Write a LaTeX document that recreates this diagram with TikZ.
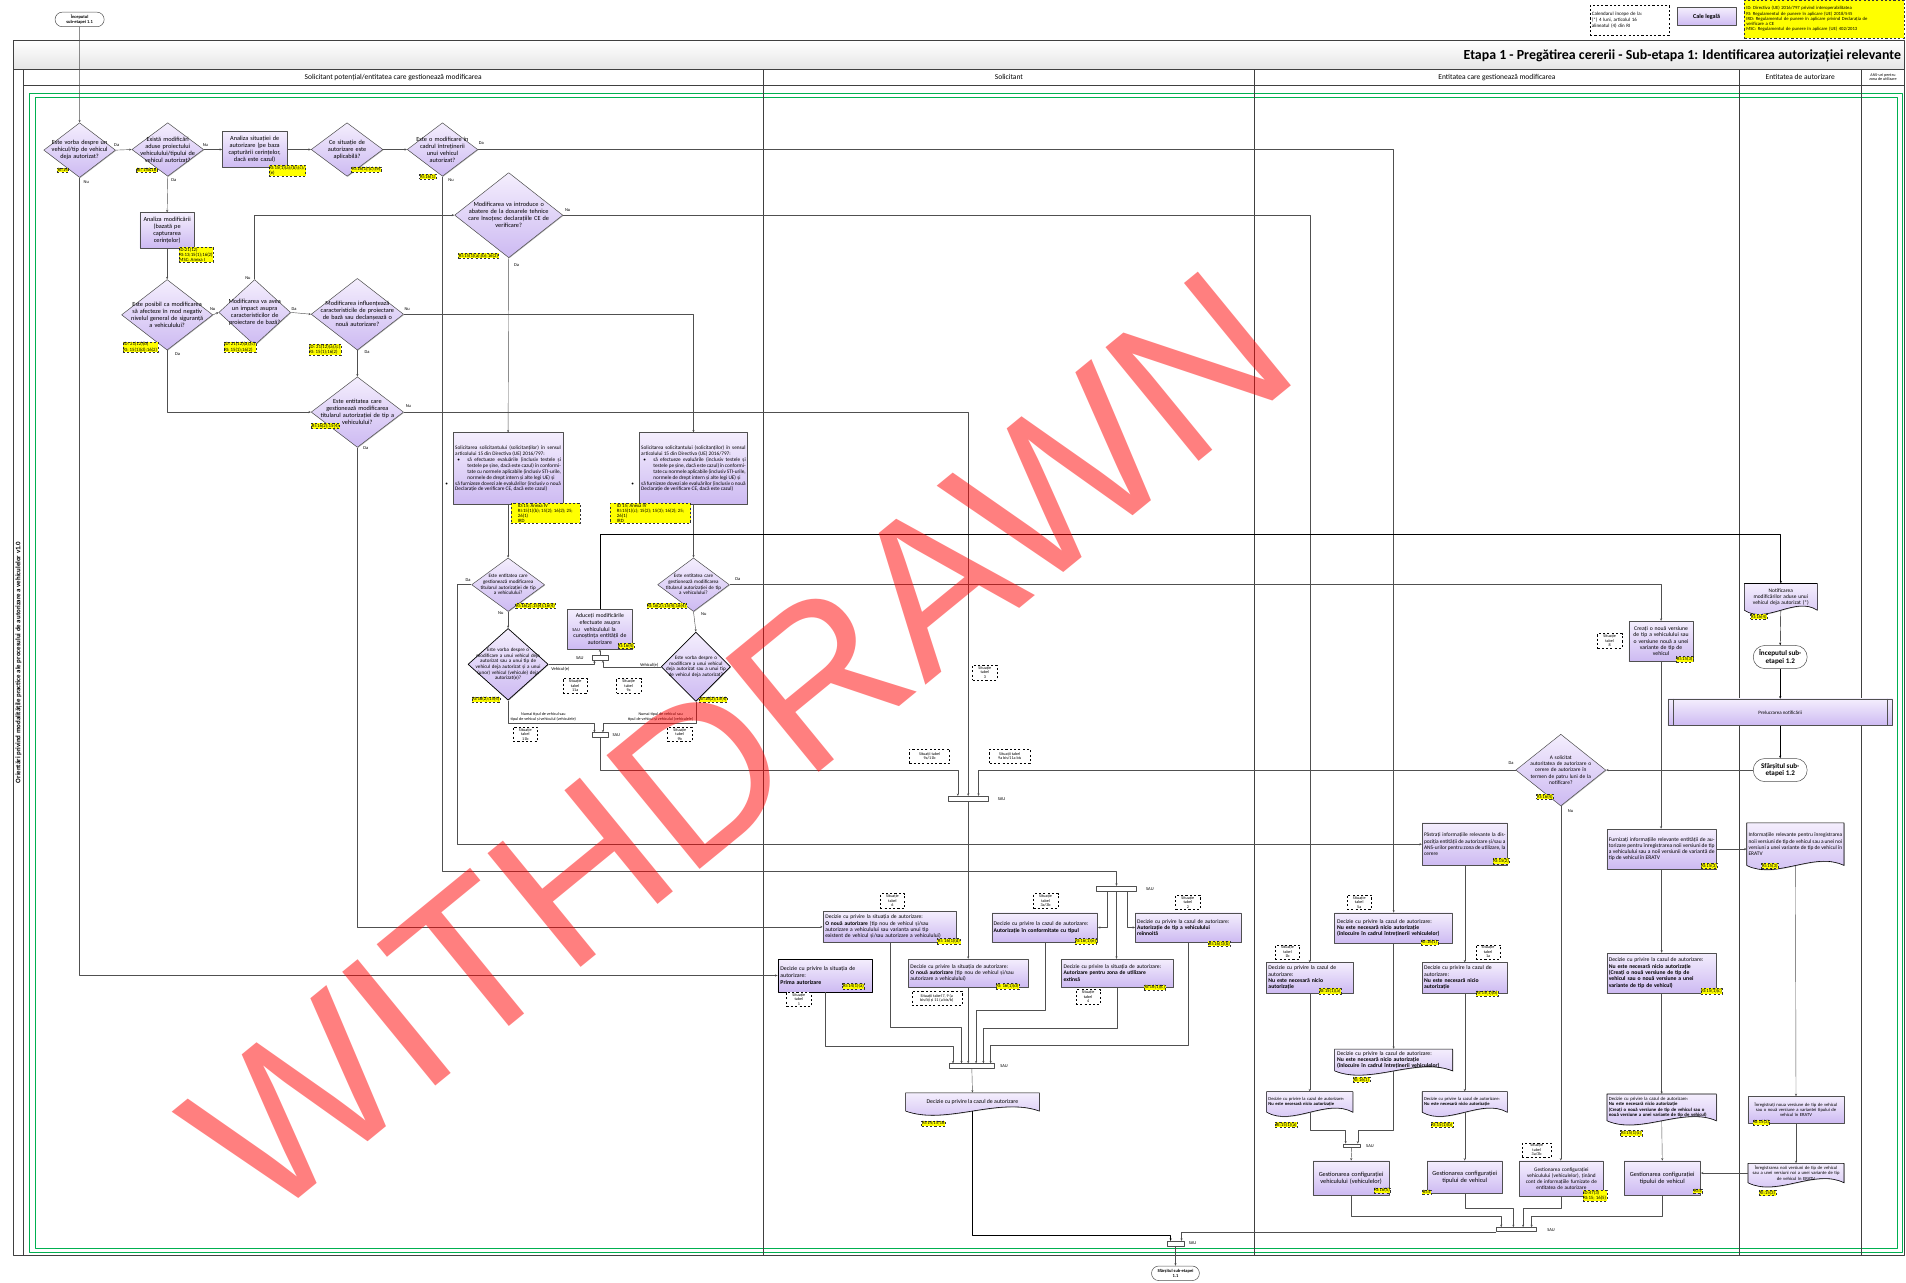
\documentclass[tikz,border=0pt]{standalone}
\usepackage{fontspec}
\setmainfont{Carlito}
\newfontfamily\wmfont{Liberation Sans}
\usetikzlibrary{shapes.geometric,shapes.misc,arrows.meta,calc,shadows}
\setlength{\parindent}{0pt}
\newlength{\ux}
\setlength{\ux}{0.06cm}

\definecolor{lavtop}{RGB}{244,238,253}
\definecolor{lavbot}{RGB}{205,186,242}
\definecolor{edgegray}{RGB}{80,80,80}
\definecolor{poolgray}{RGB}{64,64,64}
\definecolor{swimgreen}{RGB}{0,176,80}
\definecolor{tagyellow}{RGB}{255,255,0}

% wavy document outline, straight part from (x1,y1) to (x2,y2)
\newcommand{\docpath}[4]{%
  \path[docshape] (#1,#2) -- (#3,#2) -- (#3,#4)
    .. controls ($(#3,#4)+({-0.3*(#3-#1)},-12)$) and ($(#1,#4)+({0.3*(#3-#1)},12)$) .. (#1,#4) -- cycle;}

\tikzset{
  sz/.style 2 args={minimum width=#1\ux, minimum height=#2\ux},
  tw/.style={text width=#1\ux},
  shade box/.style={top color=lavtop, bottom color=lavbot,
    drop shadow={shadow xshift=0.9pt, shadow yshift=-0.9pt, opacity=0.3, fill=black}},
  proc/.style={rectangle, draw=edgegray, line width=0.7pt, shade box, inner sep=1.2pt,
    align=center, font=\fontsize{8.8}{9.9}\selectfont},
  dec/.style={diamond, draw=edgegray, line width=0.7pt, shade box, inner sep=0pt},
  dectext/.style={align=center, inner sep=0pt, font=\fontsize{8.8}{9.9}\selectfont},
  docshape/.style={draw=black, line width=0.8pt, shade box},
  docnode/.style={rectangle, inner sep=1.2pt, align=center, font=\fontsize{8.2}{9.2}\selectfont},
  term/.style={rounded rectangle, draw=edgegray, line width=0.7pt, fill=white, inner sep=0.5pt,
    align=center, font=\fontsize{6.3}{7}\selectfont\bfseries},
  reftag/.style={draw=black!80, dashed, fill=tagyellow, anchor=north west, align=left,
    inner sep=0.8pt, font=\fontsize{6.8}{7.4}\selectfont},
  dnote/.style={draw=black, dashed, line width=0.6pt, fill=white, anchor=north west, align=center,
    inner sep=0.8pt, minimum width=20\ux, minimum height=12\ux, font=\fontsize{5.8}{6.3}\selectfont},
  lbl/.style={inner sep=0pt, align=center, font=\fontsize{6.3}{7}\selectfont},
  sau/.style={rectangle, draw=edgegray, line width=0.6pt, fill=white, inner sep=0pt},
  flow/.style={draw=edgegray, line width=0.6pt, -{Stealth[length=3.5pt,width=3pt]}},
  lanehd/.style={inner sep=0pt, align=center, font=\fontsize{10.5}{11.5}\selectfont},
}

\begin{document}
\begin{tikzpicture}[x=0.06cm, y=-0.06cm, line join=round]
  \useasboundingbox (0,0) rectangle (1568,1055);

  % Pool, lanes and title
  \shade[top color=white, bottom color=black!10] (11,33) rectangle (1567,57);
  \draw[swimgreen, line width=0.9pt] (24,77) rectangle (1565,1030);
  \draw[swimgreen, line width=0.9pt] (29,80) rectangle (1561,1027);
  \draw[poolgray, line width=1pt] (11,33) rectangle (1567,1033);
  \draw[poolgray, line width=0.7pt] (11,57) -- (1567,57) (19,57) -- (19,1033) (19,70) -- (1567,70);
  \foreach \x in {628,1032,1431,1531}
    \draw[poolgray, line width=0.8pt] (\x,57) -- (\x,1033);
  \node[anchor=east, inner sep=0pt, font=\fontsize{19.5}{21}\selectfont\bfseries] (ttl) at (1564,46)
    {Etapa 1 - Pregătirea cererii - Sub-etapa 1: Identificarea autorizației relevante};
  \node[rotate=90, inner sep=0pt, font=\fontsize{9.7}{10.5}\selectfont\bfseries] (vtl) at (15.3,545)
    {Orientări privind modalitățile practice ale procesului de autorizare a vehiculelor v1.0};
  \node[lanehd] (h1) at (323.5,63.5) {Solicitant potențial/entitatea care gestionează modificarea};
  \node[lanehd] (h2) at (830,63.5) {Solicitant};
  \node[lanehd] (h3) at (1231.5,63.5) {Entitatea care gestionează modificarea};
  \node[lanehd] (h4) at (1481,63.5) {Entitatea de autorizare};
  \node[lanehd, font=\fontsize{5.8}{6.5}\selectfont] (h5) at (1549,63.5) {ANS-uri pentru\\zona de utilizare};

  % Legend
  \node[draw=black, dashed, anchor=north west, sz={65}{25}, tw=62, align=left, inner sep=1pt,
    font=\fontsize{7}{8}\selectfont] (cal) at (1308,4) {Calendarul începe de la:\\(*) 4 luni, articolul 16\\alineatul (4) din RI};
  \node[proc, sz={48}{15}, font=\fontsize{8.5}{9.5}\selectfont\bfseries] (cale) at (1404,13.5) {Cale legală};
  \node[reftag, sz={131}{31}, tw=128, font=\fontsize{6.6}{7.3}\selectfont] (leg) at (1435,0)
    {ID: Directiva (UE) 2016/797 privind interoperabilitatea\\RI: Regulamentul de punere în aplicare (UE) 2018/545\\IRD: Regulamentul de punere în aplicare privind Declarația de\\verificare a CE\\MSC: Regulamentul de punere în aplicare (UE) 402/2013};

  % Lane 1: decisions
  \node[term, sz={41}{12}] (s11) at (65.5,16) {Începutul\\sub-etapei 1.1};
  \node[dec, sz={59}{45}] (d1) at (65.5,123.5) {};
  \node[dectext, tw=52] (d1t) at (d1) {Este vorba despre un\\vehicul/tip de vehicul\\deja autorizat?};
  \node[dec, sz={59}{44}] (d2) at (138,123) {};
  \node[dectext, tw=52] (d2t) at (d2) {Există modificări\\aduse proiectului\\vehiculului/tipului de\\vehicul autorizat?};
  \node[proc, sz={53}{30}, tw=51] (a1) at (209.5,123) {Analiza situației de\\autorizare (pe baza\\capturării cerințelor,\\dacă este cazul)};
  \node[dec, sz={59}{44}] (d3) at (285.5,123) {};
  \node[dectext, tw=44] (d3t) at (d3) {Ce situație de\\autorizare este\\aplicabilă?};
  \node[dec, sz={58}{44}] (d4) at (364,123) {};
  \node[dectext, tw=48] (d4t) at (d4) {Este o modificare în\\cadrul întreținerii\\unui vehicul\\autorizat?};
  \node[proc, sz={45}{29}, tw=43] (a2) at (137.5,189.5) {Analiza modificării\\(bazată pe\\capturarea\\cerințelor)};
  \node[dec, sz={75}{58}] (d5) at (137.5,259) {};
  \node[dectext, tw=66] (d5t) at (d5) {Este posibil ca modificarea\\să afecteze în mod negativ\\nivelul general de siguranță\\a vehiculului?};
  \node[dec, sz={59}{54}] (d6) at (209.5,257) {};
  \node[dectext, tw=52] (d6t) at (d6) {Modificarea va avea\\un impact asupra\\caracteristicilor de\\proiectare de bază?};
  \node[dec, sz={76}{59}] (d9) at (294,258.5) {};
  \node[dectext, tw=68] (d9t) at (d9) {Modificarea influențează\\caracteristicile de proiectare\\de bază sau declanșează o\\nouă autorizare?};
  \node[dec, sz={89}{70}] (d7) at (418.5,177) {};
  \node[dectext, tw=74] (d7t) at (d7) {Modificarea va introduce o\\abatere de la dosarele tehnice\\care însoțesc declarațiile CE de\\verificare?};
  \node[dec, sz={76}{58}] (d8) at (294,339) {};
  \node[dectext, tw=68] (d8t) at (d8) {Este entitatea care\\gestionează modificarea\\titularul autorizației de tip a\\vehiculului?};

  % Lane 1: requests to the applicant
  \node[proc, sz={90}{59}, tw=87, align=justify, font=\fontsize{7.4}{8.4}\selectfont] (s1) at (418,385.5)
    {Solicitarea solicitantului (solicitanților) în sensul articolului 15 din Directiva (UE) 2016/797:\par
     \hangindent=10\ux\hangafter=0\leavevmode\llap{\textbullet\hspace{6\ux}}să efectueze evaluările (inclusiv testele și testele pe șine, dacă este cazul) în conformitate cu normele aplicabile (inclusiv STI-urile, normele de drept intern și alte legi UE) și\par
     \hangindent=10\ux\hangafter=0\leavevmode\llap{\textbullet\hspace{6\ux}}să furnizeze dovezi ale evaluărilor (inclusiv o nouă Declarație de verificare CE, dacă este cazul)};
  \node[proc, sz={89}{59}, tw=86, align=justify, font=\fontsize{7.4}{8.4}\selectfont] (s2) at (570.5,385.5)
    {Solicitarea solicitantului (solicitanților) în sensul articolului 15 din Directiva (UE) 2016/797:\par
     \hangindent=10\ux\hangafter=0\leavevmode\llap{\textbullet\hspace{6\ux}}să efectueze evaluările (inclusiv testele și testele pe șine, dacă este cazul) în conformitate cu normele aplicabile (inclusiv STI-urile, normele de drept intern și alte legi UE) și\par
     \hangindent=10\ux\hangafter=0\leavevmode\llap{\textbullet\hspace{6\ux}}să furnizeze dovezi ale evaluărilor (inclusiv o nouă Declarație de verificare CE, dacă este cazul)};
  \node[dec, sz={60}{44}] (d10) at (418,481) {};
  \node[dectext, tw=54, font=\fontsize{7.1}{8}\selectfont] (d10t) at (d10) {Este entitatea care\\gestionează modificarea\\titularul autorizației de tip\\a vehiculului?};
  \node[dec, sz={59}{44}] (d13) at (570.5,481) {};
  \node[dectext, tw=54, font=\fontsize{7.1}{8}\selectfont] (d13t) at (d13) {Este entitatea care\\gestionează modificarea\\titularul autorizației de tip\\a vehiculului?};
  \node[dec, sz={66}{59}, draw=black, line width=1pt] (d12) at (418,546.5) {};
  \node[dectext, tw=62, font=\fontsize{7.1}{8}\selectfont] (d12t) at (d12) {Este vorba despre o\\modificare a unui vehicul deja\\autorizat sau a unui tip de\\vehicul deja autorizat și a unui\\(unor) vehicul (vehicule) deja\\autorizat(e)?};
  \node[dec, sz={57}{57}, draw=black, line width=1pt] (d14) at (572.5,548.5) {};
  \node[dectext, tw=58, font=\fontsize{7.1}{8}\selectfont] (d14t) at (d14) {Este vorba despre o\\modificare a unui vehicul\\deja autorizat sau a unui tip\\de vehicul deja autorizat?};
  \node[proc, sz={53}{33}, tw=51, font=\fontsize{8.2}{9.2}\selectfont] (ad) at (493.5,517.5) {Aduceți modificările\\efectuate asupra\\vehiculului la\\cunoștința entității de\\autorizare};

  % OR bars
  \node[sau, sz={13}{4}] (bar1) at (493.5,541) {};
  \node[sau, sz={13}{3.5}] (bar2) at (493.5,604.5) {};
  \node[sau, sz={33}{4}] (bar3) at (796.5,657) {};
  \node[sau, sz={33}{4}] (bar4) at (918.5,731) {};
  \node[sau, sz={37}{4}] (bar5) at (799.5,877) {};
  \node[sau, sz={14}{4}] (bar6) at (967,1023) {};
  \node[sau, sz={33}{3.5}] (bar7) at (1247.5,1011.5) {};
  \node[sau, sz={14}{3}] (bar8) at (1112,942.5) {};
  \node[lbl] (sau1) at (477,541) {SAU};
  \node[lbl] (sau1b) at (474,518) {SAU};
  \node[lbl] (sau2) at (507,605) {SAU};
  \node[lbl] (sau3) at (824,657) {SAU};
  \node[lbl] (sau4) at (946,731) {SAU};
  \node[lbl] (sau5) at (826,877) {SAU};
  \node[lbl] (sau6) at (981,1023) {SAU};
  \node[lbl] (sau7) at (1276,1012) {SAU};
  \node[lbl] (sau8) at (1127,943) {SAU};

  % Lane 2: decisions of the applicant
  \node[proc, sz={78}{27}, tw=74, align=left, draw=black, line width=1pt, font=\fontsize{8.2}{9.2}\selectfont] (bp) at (679,802.5)
    {Decizie cu privire la situația de\\autorizare:\\\textbf{Prima autorizare}};
  \node[proc, sz={110}{25}, tw=106, align=left, font=\fontsize{7.8}{8.8}\selectfont] (bn) at (732,762.5)
    {Decizie cu privire la situația de autorizare:\\\textbf{O nouă autorizare} (tip nou de vehicul și/sau\\autorizare a vehiculului sau varianta unui tip\\existent de vehicul și/sau autorizare a vehiculului)};
  \node[proc, sz={99}{23}, tw=95, align=left, font=\fontsize{7.8}{8.8}\selectfont] (b3) at (796.5,800.5)
    {Decizie cu privire la situația de autorizare:\\\textbf{O nouă autorizare} (tip nou de vehicul și/sau\\autorizare a vehiculului)};
  \node[proc, sz={87}{24}, tw=84, align=left, font=\fontsize{8}{9}\selectfont] (bc) at (859.5,763)
    {Decizie cu privire la cazul de autorizare:\\\textbf{Autorizație în conformitate cu tipul}};
  \node[proc, sz={92}{23}, tw=88, align=left, font=\fontsize{7.8}{8.8}\selectfont] (be) at (919,800.5)
    {Decizie cu privire la situația de autorizare:\\\textbf{Autorizare pentru zona de utilizare}\\\textbf{extinsă}};
  \node[proc, sz={87}{24}, tw=84, align=left, font=\fontsize{7.8}{8.8}\selectfont] (br) at (977.5,763)
    {Decizie cu privire la cazul de autorizare:\\\textbf{Autorizație de tip a vehiculului}\\\textbf{reînnoită}};
  \docpath{745}{899}{855}{914}
  \node[docnode, sz={110}{15}] (docdec) at (800,906.5) {Decizie cu privire la cazul de autorizare};
  \node[term, sz={40}{12}] (e11) at (967,1047.5) {Sfârșitul sub-etapei\\1.1};

  % Lane 3: entity managing the change
  \node[proc, sz={70}{35}, tw=67, align=justify, font=\fontsize{7.6}{8.6}\selectfont] (p) at (1205,694.5)
    {Păstrați informațiile relevante la dispoziția entității de autorizare și/sau a ANS-urilor pentru zona de utilizare, la cerere};
  \node[proc, sz={71}{25}, tw=68, align=left, font=\fontsize{8}{9}\selectfont] (n1) at (1077.5,804.5)
    {Decizie cu privire la cazul de\\autorizare:\\\textbf{Nu este necesară nicio}\\\textbf{autorizație}};
  \node[proc, sz={97}{25}, tw=93, align=left, font=\fontsize{8}{9}\selectfont] (nm) at (1146.5,763.5)
    {Decizie cu privire la cazul de autorizare:\\\textbf{Nu este necesară nicio autorizație}\\\textbf{(înlocuire în cadrul întreținerii vehiculelor)}};
  \node[proc, sz={70}{25}, tw=67, align=left, font=\fontsize{8}{9}\selectfont] (n2) at (1205,804.5)
    {Decizie cu privire la cazul de\\autorizare:\\\textbf{Nu este necesară nicio}\\\textbf{autorizație}};
  \docpath{1042}{898}{1113}{915}
  \node[docnode, sz={71}{17}, tw=68, align=left, font=\fontsize{6.4}{7.2}\selectfont] (n1d) at (1077.5,906.5)
    {Decizie cu privire la cazul de autorizare:\\\textbf{Nu este necesară nicio autorizație}};
  \docpath{1098}{863}{1195}{881}
  \node[docnode, sz={97}{18}, tw=93, align=left, font=\fontsize{8}{8.8}\selectfont] (nmd) at (1146.5,872)
    {Decizie cu privire la cazul de autorizare:\\\textbf{Nu este necesară nicio autorizație}\\\textbf{(înlocuire în cadrul întreținerii vehiculelor)}};
  \docpath{1170}{898}{1240}{915}
  \node[docnode, sz={70}{17}, tw=67, align=left, font=\fontsize{6.4}{7.2}\selectfont] (n2d) at (1205,906.5)
    {Decizie cu privire la cazul de autorizare:\\\textbf{Nu este necesară nicio autorizație}};
  \node[proc, sz={63}{28}, tw=61] (g1) at (1111.5,969) {Gestionarea configurației\\vehiculului (vehiculelor)};
  \node[proc, sz={62}{27}, tw=60] (g2) at (1205,968.5) {Gestionarea configurației\\tipului de vehicul};
  \node[proc, sz={69}{29}, tw=67, font=\fontsize{7.4}{8.4}\selectfont] (g3) at (1284.5,969.5)
    {Gestionarea configurației\\vehiculului (vehiculelor), ținând\\cont de informațiile furnizate de\\entitatea de autorizare};
  \node[proc, sz={63}{28}, tw=61] (g4) at (1367.5,969) {Gestionarea configurației\\tipului de vehicul};
  \node[dec, sz={74}{59}] (da) at (1284,633.5) {};
  \node[dectext, tw=68, font=\fontsize{7.6}{8.6}\selectfont] (dat) at (da) {A solicitat\\autoritatea de autorizare o\\cerere de autorizare în\\termen de patru luni de la\\notificare?};
  \node[proc, sz={53}{33}, tw=51, font=\fontsize{8}{9}\selectfont] (cr) at (1366.5,527.5)
    {Creați o nouă versiune\\de tip a vehiculului sau\\o versiune nouă a unei\\variante de tip de\\vehicul};
  \node[proc, sz={90}{33}, tw=87, align=justify, font=\fontsize{7.8}{8.8}\selectfont] (f) at (1367,698.5)
    {Furnizați informațiile relevante entității de autorizare pentru înregistrarea noii versiuni de tip a vehiculului sau a noii versiunii de variantă de tip de vehicul în ERATV};
  \node[proc, sz={90}{33}, tw=87, align=left, font=\fontsize{8}{8.9}\selectfont] (nc) at (1367,800.5)
    {Decizie cu privire la cazul de autorizare:\\\textbf{Nu este necesară nicio autorizație}\\\textbf{(Creați o nouă versiune de tip de}\\\textbf{vehicul sau o nouă versiune a unei}\\\textbf{variante de tip de vehicul)}};
  \docpath{1322}{900}{1412}{922}
  \node[docnode, sz={90}{22}, tw=87, align=left, font=\fontsize{6.7}{7.6}\selectfont] (ncd) at (1367,911)
    {Decizie cu privire la cazul de autorizare:\\\textbf{Nu este necesară nicio autorizație}\\\textbf{(Creați o nouă versiune de tip de vehicul sau o}\\\textbf{nouă versiune a unei variante de tip de vehicul)}};

  % Lane 4: authorising entity
  \docpath{1435}{480}{1495}{502}
  \node[docnode, sz={60}{22}, tw=58, font=\fontsize{7.6}{8.6}\selectfont] (no) at (1465,491)
    {Notificarea\\modificărilor aduse unui\\vehicul deja autorizat (*)};
  \node[term, sz={45}{19}, font=\fontsize{10}{11}\selectfont\bfseries] (s12) at (1464.5,540.5) {Începutul sub-\\etapei 1.2};
  \node[proc, sz={185}{22}, font=\fontsize{7}{8}\selectfont] (pr) at (1464.5,586) {Prelucrarea notificării};
  \draw[edgegray, line width=0.7pt] ([xshift=5\ux]pr.north west) -- ([xshift=5\ux]pr.south west)
    ([xshift=-5\ux]pr.north east) -- ([xshift=-5\ux]pr.south east);
  \node[term, sz={45}{19}, font=\fontsize{10}{11}\selectfont\bfseries] (e12) at (1464.5,633.5) {Sfârșitul sub-\\etapei 1.2};
  \docpath{1437}{677}{1517}{712}
  \node[docnode, sz={80}{35}, tw=77, align=justify, font=\fontsize{7.6}{8.6}\selectfont] (inf) at (1477,694.5)
    {Informațiile relevante pentru înregistrarea noii versiuni de tip de vehicul sau a unei noi versiuni a unei variante de tip de vehicul în ERATV};
  \node[proc, sz={79}{22}, tw=77, font=\fontsize{6.5}{7.4}\selectfont] (i1) at (1477.5,913)
    {Înregistrați noua versiune de tip de vehicul\\sau o nouă versiune a variantei tipului de\\vehicul în ERATV};
  \docpath{1438}{957}{1517}{973}
  \node[docnode, sz={79}{16}, tw=77, font=\fontsize{6.5}{7.2}\selectfont] (i2) at (1477.5,965)
    {Înregistrarea noii versiuni de tip de vehicul\\sau a unei versiuni noi a unei variante de tip\\de vehicul în ERATV};

  % Connectors
  \draw[flow] (s11) -- (d1);
  \draw[flow] (d1.east) -- (d2.west);
  \draw[flow] (d2.east) -- (a1.west);
  \draw[flow] (a1.east) -- (d3.west);
  \draw[flow] (d3.east) -- (d4.west);
  \draw[flow] (d2.south) -- (a2.north);
  \draw[flow] (a2.south) -- (d5.north);
  \draw[flow] (d5.east) -- (d6.west);
  \draw[flow] (d6.east) -- (d9.west);
  \draw[flow] (d6.north) |- (d7.west);
  \draw[flow] (d5.south) |- (d8.west);
  \draw[flow] (d9.south) -- (d8.north);
  \draw[flow] (d9.east) -| (s2.north);
  \draw[flow] (d8.east) -| (bar3.north);
  \draw[flow] (d7.south) -- (s1.north);
  \draw[flow] (d7.east) -| (n1.north);
  \draw[flow] (d4.east) -| (nm.north);
  \draw[flow] (d4.south) |- ($(bar4.north)+(0,-12)$) -| (bar4.north);
  \draw[flow] (d1.south) |- (bp.west);
  \draw[flow] (d8.south) |- (bn.west);
  \draw[flow] (s1.south) -- (d10.north);
  \draw[flow] (s2.south) -- (d13.north);
  \draw[flow] (d10.west) -- ++(-12,0) |- (p.west);
  \draw[flow] (d10.south) -- (d12.north);
  \draw[flow] (d13.south) -- (d14.north);
  \draw[flow] (d13.east) -| (cr.north);
  \draw[flow] (d12.east) -| ($(bar1.south)+(-4.5,0)$);
  \draw[flow] (d14.west) -| ($(bar1.south)+(2.5,0)$);
  \draw[flow] (bar1.north) -- (ad.south);
  \draw[flow, black, line width=1pt] (ad.north) |- ($(no.north)+(0,-40)$) -| (no.north);
  \draw[flow] (d12.south) -- ++(0,19) -| ($(bar2.north)+(-4.5,0)$);
  \draw[flow] (d14.south) -- ++(0,18) -| ($(bar2.north)+(2.5,0)$);
  \draw[flow] (bar2.south) -- ++(0,27) -| ($(bar3.north)+(-8.5,0)$);
  \draw[flow] (da.west) -| ($(bar3.north)+(8.5,0)$);
  \draw[flow] (bar3.south) -- (b3.north);
  \draw[flow] ($(bar4.south)+(-7.5,0)$) |- (bc.east);
  \draw[flow] (bar4.south) -- (bar4.south |- be.north);
  \draw[flow] ($(bar4.south)+(8.5,0)$) |- (br.west);
  \draw[flow] (bp.south) -- ++(0,44) -| ($(bar5.north)+(-15.5,0)$);
  \draw[flow] (bn.south) -- ++(0,70) -| ($(bar5.north)+(-8.5,0)$);
  \draw[flow] (b3.south) -- (b3.south |- bar5.north);
  \draw[flow] (bc.south) -- ++(0,56) -| ($(bar5.north)+(3.5,0)$);
  \draw[flow] (be.south) -- ++(0,34) -| ($(bar5.north)+(9.5,0)$);
  \draw[flow] (br.south) -- ++(0,85) -| ($(bar5.north)+(15.5,0)$);
  \draw[flow] (bar5.south) -- (docdec.north);
  \draw[flow, black, line width=1pt] (docdec.south) -- ++(0,102) -| ($(bar6.north)+(-4,0)$);
  \draw[flow] (bar7.south west) -| ($(bar6.north)+(5,0)$);
  \draw[flow] (bar6.south) -- (e11.north);
  \draw[flow] (p.south) -- (n2.north);
  \draw[flow] (n1.south) -- (n1d.north);
  \draw[flow] (nm.south) -- (nmd.north);
  \draw[flow] (n2.south) -- (n2d.north);
  \draw[flow] (n1d.south) -- ++(0,15) -| ($(bar8.north)+(-5,0)$);
  \draw[flow] (nmd.south) -- ++(0,49) -| ($(bar8.north)+(5,0)$);
  \draw[flow] (bar8.south) -- (g1.north);
  \draw[flow] (n2d.south) -- (g2.north);
  \draw[flow] (da.south) -- (da.south |- g3.north);
  \draw[flow] (g1.south) -- ++(0,17) -| ($(bar7.north)+(-12.5,0)$);
  \draw[flow] (g2.south) -- ++(0,12) -| ($(bar7.north)+(-2.5,0)$);
  \draw[flow] (g3.south) -- ++(0,10) -| ($(bar7.north)+(5.5,0)$);
  \draw[flow] (g4.south) -- ++(0,17) -| ($(bar7.north)+(12.5,0)$);
  \draw[flow] (cr.south) -- (cr.south |- f.north);
  \draw[flow] (f.east) -- (f.east -| inf.west);
  \draw[flow] (f.south) -- (nc.north);
  \draw[flow] (nc.south) -- (ncd.north);
  \draw[flow] (ncd.south) -- (g4.north);
  \draw[flow, black] (no.south) -- (s12.north);
  \draw[flow, black] (s12.south) -- (pr.north);
  \draw[flow, black] (pr.south) -- (e12.north);
  \draw[flow] (e12.west) -- (da.east);
  \draw[flow] (inf.south) -- (i1.north);
  \draw[flow] (i1.south) -- (i2.north);
  \draw[flow] (i2.west) -- (i2.west -| g4.east);

  % Branch labels
  \node[lbl] (l1) at (96,119) {Da};   \node[lbl] (l2) at (71,150) {Nu};
  \node[lbl] (l3) at (169,119) {Nu};  \node[lbl] (l4) at (143,148) {Da};
  \node[lbl] (l5) at (396,118) {Da};  \node[lbl] (l6) at (371,148) {Nu};
  \node[lbl] (l7) at (175,254) {Nu};  \node[lbl] (l8) at (146,291) {Da};
  \node[lbl] (l9) at (204,229) {Nu};  \node[lbl] (l10) at (242,254) {Da};
  \node[lbl] (l11) at (335,254) {Nu}; \node[lbl] (l12) at (302,290) {Da};
  \node[lbl] (l13) at (336,334) {Nu}; \node[lbl] (l14) at (301,369) {Da};
  \node[lbl] (l15) at (467,173) {Nu}; \node[lbl] (l16) at (425,218) {Da};
  \node[lbl] (l17) at (385,477) {Da}; \node[lbl] (l18) at (412,504) {Nu};
  \node[lbl] (l19) at (607,476) {Da}; \node[lbl] (l20) at (579,505) {Nu};
  \node[lbl] (l21) at (1243,628) {Da}; \node[lbl] (l22) at (1292,667) {Nu};
  \node[lbl] (l23) at (461,550.5) {Vehicul(e)};
  \node[lbl] (l24) at (534,547) {Vehicul(e)};
  \node[lbl, font=\fontsize{5.8}{6.6}\selectfont] (l25) at (447,590) {Numai tipul de vehicul sau\\tipul de vehicul și vehiculul (vehiculele)};
  \node[lbl, font=\fontsize{5.8}{6.6}\selectfont] (l26) at (543.5,590) {Numai tipul de vehicul sau\\tipul de vehicul și vehiculul (vehiculele)};

  % Situation notes
  \node[dnote] (nt11a) at (463,558) {Situație\\tabel\\11a};
  \node[dnote] (nt9a) at (507,558) {Situație\\tabel\\9a};
  \node[dnote] (nt11b) at (422,598) {Situație\\tabel\\11b};
  \node[dnote] (nt9b) at (549,598) {Situație\\tabel\\9b};
  \node[dnote] (nt3) at (800,547) {Situație\\tabel\\3};
  \node[dnote, minimum width=33\ux] (ntA) at (748,616) {Situații tabel\\9a/11b};
  \node[dnote, minimum width=33\ux] (ntB) at (814,616) {Situații tabel\\9a bis/11a bis};
  \node[dnote] (nt6) at (724,735) {Situație\\tabel\\6};
  \node[dnote] (nt1) at (647,816) {Situație\\tabel\\1};
  \node[dnote] (nt3ab) at (850,735) {Situație\\tabel\\3a/3b};
  \node[dnote] (nt2) at (967,736) {Situație\\tabel\\2};
  \node[dnote, minimum width=41\ux] (nt7) at (750,815) {Situații tabel 7, 9 (a\\bis/b) și 11 (a bis/b)};
  \node[dnote] (nt4) at (885,814) {Situație\\tabel\\4};
  \node[dnote] (nt5a) at (1108,736) {Situație\\tabel\\5a};
  \node[dnote] (nt1b) at (1049,777) {Situație\\tabel\\1b};
  \node[dnote] (nt1a) at (1214,777) {Situație\\tabel\\1a};
  \node[dnote] (nt8) at (1314,521) {Situație\\tabel\\8};
  \node[dnote, minimum width=24\ux] (nt3c) at (1252,940) {Situație\\tabel\\3a/3b};

  % Legal references
  \node[reftag] (t1) at (47,138) {RI:14};
  \node[reftag] (t2) at (112,138) {RI: 15\&16};
  \node[reftag] (t3) at (221,136) {RI:15(1)(a);(b);(c)/\\(e)};
  \node[reftag] (t4) at (289,137) {RI:16(1);(c);(e)};
  \node[reftag] (t5) at (345,143) {RI:16(1)};
  \node[reftag] (t6) at (147,203) {ID:21(12)\\RI:13;15(1);16(2)\\MSC: Anexa I};
  \node[reftag] (t7) at (101,281) {ID: 21(12)(b)\\RI: 15(1)(d);16(2)};
  \node[reftag] (t8) at (184,281) {ID: 21(12)(a),(c)\\RI: 15(1);16(2)};
  \node[reftag] (t9) at (254,283) {ID: 21(12)(a),(c)\\RI: 15(1);16(2)};
  \node[reftag] (t10) at (256,348) {RI:16(2);15(4)};
  \node[reftag] (t11) at (377,208) {RI:15(1)(a);(b);16(2)};
  \node[reftag, minimum width=57\ux] (t12) at (420,414) {ID:15; Anexa IV\\RI:15(1)(b); 15(2); 16(2); 25;\\26(1)\\IRD};
  \node[reftag, minimum width=66\ux] (t13) at (502,414) {ID 15; Anexa IV\\RI:15(1)(c); 15(2); 15(3); 16(2); 25;\\26(1)\\IRD};
  \node[reftag] (t14) at (424,496) {RI:16(2);15(4);16(4)};
  \node[reftag] (t15) at (532,496) {RI:16(2);15(4);16(4)};
  \node[reftag] (t16) at (388,573) {RI:16(2);15(4)};
  \node[reftag] (t17) at (575,573) {RI:16(2);15(4)};
  \node[reftag] (t18) at (508,529) {RI:16(4)};
  \node[reftag] (t19) at (693,809) {RI:14(1)(a)};
  \node[reftag] (t20) at (771,772) {RI: 16(1)(d)};
  \node[reftag] (t21) at (819,809) {RI: 16(1)(d)};
  \node[reftag] (t22) at (884,772) {RI:16(1)(e)};
  \node[reftag] (t23) at (941,810) {RI:16(1)(c)};
  \node[reftag] (t24) at (994,774) {RI:16(1)(b)};
  \node[reftag] (t25) at (758,922) {RI:14;15;16};
  \node[reftag] (t26) at (1228,706) {RI:15(2)};
  \node[reftag] (t27) at (1085,813) {RI:15(1)(a)};
  \node[reftag] (t28) at (1169,773) {RI:16(1)};
  \node[reftag] (t29) at (1214,815) {RI:15(1)(b)};
  \node[reftag] (t30) at (1049,923) {RI:15(1)(a)};
  \node[reftag] (t31) at (1113,886) {RI:16(1)};
  \node[reftag] (t32) at (1177,923) {RI:15(1)(b)};
  \node[reftag] (t33) at (1130,977) {RI:16(5)};
  \node[reftag] (t34) at (1170,979) {RI:5};
  \node[reftag] (t35) at (1302,979) {ID:47(3)\\RI:15; 16(5)};
  \node[reftag] (t36) at (1393,978) {RI:5};
  \node[reftag] (t37) at (1264,653) {RI:16(4)};
  \node[reftag] (t38) at (1379,540) {RI:15(3)};
  \node[reftag] (t39) at (1399,710) {RI:15(3)};
  \node[reftag] (t40) at (1399,813) {RI:15(1)(c)};
  \node[reftag] (t41) at (1333,930) {RI:15(1)(c)};
  \node[reftag] (t42) at (1440,505) {RI:16(4)};
  \node[reftag] (t43) at (1449,710) {RI:15(3)};
  \node[reftag] (t44) at (1442,921) {RI:15(3)};
  \node[reftag] (t45) at (1447,979) {RI:15(3)};

  % Watermark
  \node[rotate=39.3, inner sep=0pt, text=red, opacity=0.5, font=\wmfont\fontsize{300}{300}\selectfont] (wm) at (607,612) {WITHDRAWN};
\end{tikzpicture}
\end{document}
